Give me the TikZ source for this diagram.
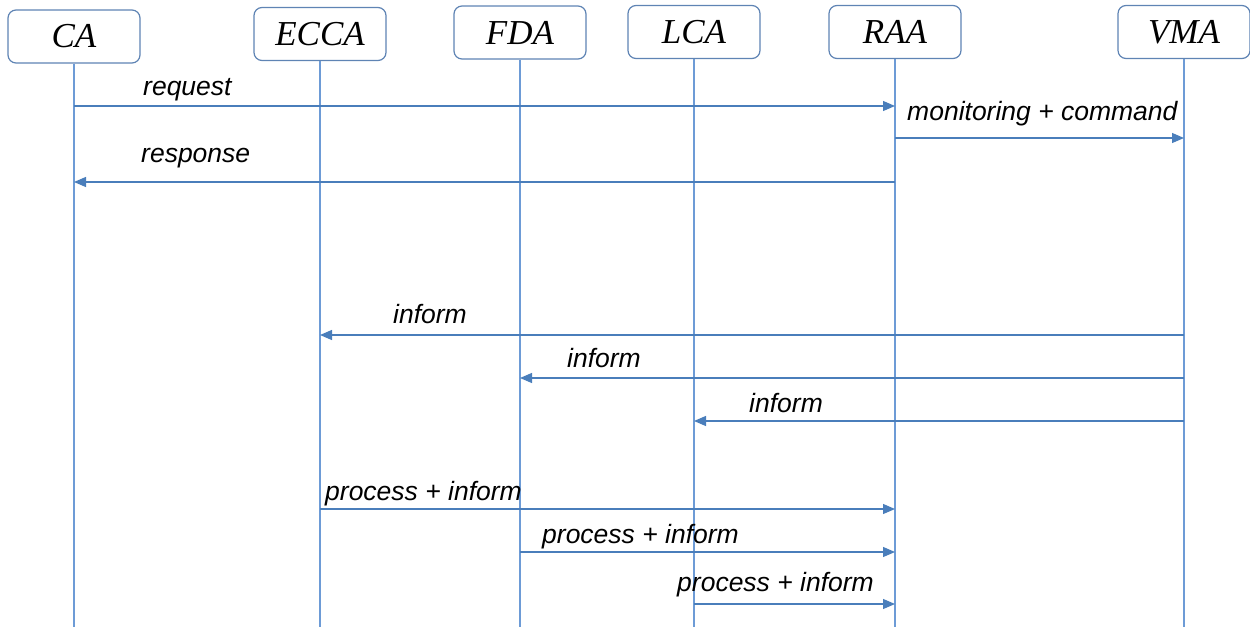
\documentclass[tikz,border=0pt]{standalone}
\usepackage{fontspec}
\setmainfont{Liberation Serif}
\newfontfamily\msgfont{Liberation Sans}
\usetikzlibrary{arrows.meta}
\definecolor{linkblue}{HTML}{4A7EBB}
\definecolor{lifeblue}{HTML}{6D9BD6}
\definecolor{boxedge}{HTML}{5F84B4}
\begin{document}
\begin{tikzpicture}[x=1pt,y=-1pt,
  agent/.style={draw=boxedge,line width=1.2pt,rounded corners=8pt,fill=white,
    minimum width=132pt,minimum height=53pt,inner sep=0pt,
    font=\fontsize{35}{38}\selectfont\itshape},
  lifeline/.style={draw=lifeblue,line width=1.3pt},
  msg/.style={draw=linkblue,line width=1.2pt,-{Triangle[length=12pt,width=10pt]}},
  msglabel/.style={anchor=base west,inner sep=0pt,
    font=\msgfont\fontsize{26.5}{30}\selectfont\itshape}]
\useasboundingbox (0,0) rectangle (1250,629);

% agents along the top
\node[agent] (ca)   at (74,36.5)  {CA};
\node[agent] (ecca) at (320,34)   {ECCA};
\node[agent] (fda)  at (520,32.5) {FDA};
\node[agent] (lca)  at (694,32)   {LCA};
\node[agent] (raa)  at (895,32)   {RAA};
\node[agent] (vma)  at (1184,32)  {VMA};

% lifelines
\foreach \a in {ca,ecca,fda,lca,raa,vma}
  \coordinate (\a-end) at (\a |- 0,627);
\foreach \a in {ca,ecca,fda,lca,raa,vma}
  \draw[lifeline] (\a.south) -- (\a-end);

% request / command / response
\draw[msg] (ca |- 0,106) -- (raa |- 0,106);
\node[msglabel] (lreq) at (143,95) {request};
\draw[msg] (raa |- 0,138) -- (vma |- 0,138);
\node[msglabel] (lmon) at (907,120) {monitoring + command};
\draw[msg] (raa |- 0,182) -- (ca |- 0,182);
\node[msglabel] (lresp) at (141,162) {response};

% VMA informs the other agents
\draw[msg] (vma |- 0,335) -- (ecca |- 0,335);
\node[msglabel] (linf1) at (393,323) {inform};
\draw[msg] (vma |- 0,378) -- (fda |- 0,378);
\node[msglabel] (linf2) at (567,367) {inform};
\draw[msg] (vma |- 0,421) -- (lca |- 0,421);
\node[msglabel] (linf3) at (749,412) {inform};

% results reported back to RAA
\draw[msg] (ecca |- 0,509) -- (raa |- 0,509);
\node[msglabel] (lpr1) at (325,500) {process + inform};
\draw[msg] (fda |- 0,552) -- (raa |- 0,552);
\node[msglabel] (lpr2) at (542,543) {process + inform};
\draw[msg] (lca |- 0,604) -- (raa |- 0,604);
\node[msglabel] (lpr3) at (677,591) {process + inform};
\end{tikzpicture}
\end{document}
